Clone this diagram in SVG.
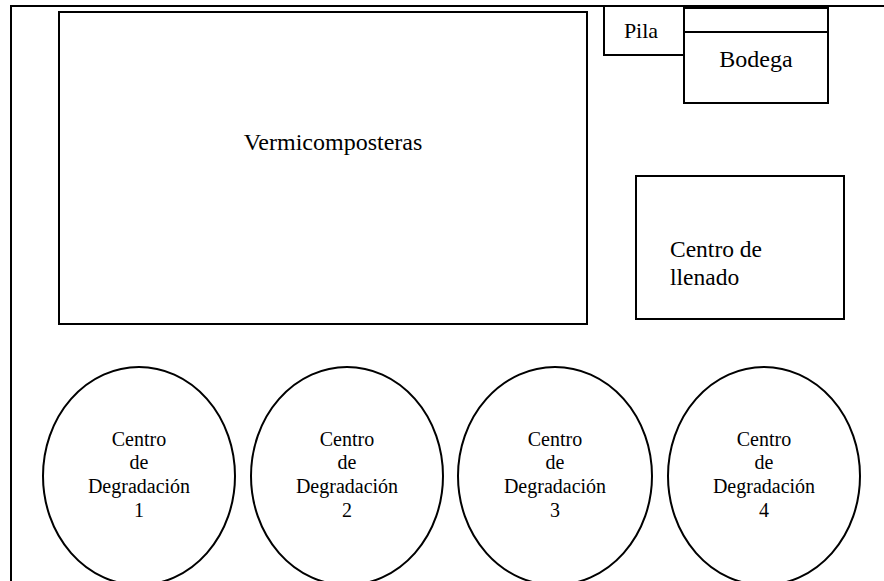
<svg xmlns="http://www.w3.org/2000/svg" width="884" height="581" viewBox="0 0 884 581">
<style>
.s{fill:none;stroke:#000;stroke-width:2}
text{font-family:'Liberation Serif','Times New Roman',serif;fill:#000}
.m{font-size:20px;text-anchor:middle}
</style>
<rect width="884" height="581" fill="#fff"/>
<g id="border"><path class="s" d="M11,581 V6 H884"/></g>
<g id="vermicomposteras"><rect class="s" x="59" y="12" width="528" height="312"/><text x="333" y="150" font-size="24" text-anchor="middle">Vermicomposteras</text></g>
<g id="pila"><path class="s" d="M604,7 V55 H684"/><text x="641" y="38" font-size="22" text-anchor="middle">Pila</text></g>
<g id="bodega"><rect class="s" x="684" y="8" width="144" height="95"/><line class="s" x1="684" y1="32" x2="828" y2="32"/><text x="756" y="67" font-size="24" text-anchor="middle">Bodega</text></g>
<g id="llenado"><rect class="s" x="636" y="176" width="208" height="143"/><text x="670" y="257" font-size="23.5">Centro de</text><text x="670" y="285" font-size="23.5">llenado</text></g>
<g id="cd1"><ellipse class="s" cx="139" cy="476" rx="96" ry="109"/><text class="m"><tspan x="139" y="446">Centro</tspan><tspan x="139" y="469">de</tspan><tspan x="139" y="493">Degradación</tspan><tspan x="139" y="517">1</tspan></text></g>
<g id="cd2"><ellipse class="s" cx="347" cy="476" rx="96" ry="109"/><text class="m"><tspan x="347" y="446">Centro</tspan><tspan x="347" y="469">de</tspan><tspan x="347" y="493">Degradación</tspan><tspan x="347" y="517">2</tspan></text></g>
<g id="cd3"><ellipse class="s" cx="555" cy="476" rx="97" ry="109"/><text class="m"><tspan x="555" y="446">Centro</tspan><tspan x="555" y="469">de</tspan><tspan x="555" y="493">Degradación</tspan><tspan x="555" y="517">3</tspan></text></g>
<g id="cd4"><ellipse class="s" cx="764" cy="476" rx="96" ry="109"/><text class="m"><tspan x="764" y="446">Centro</tspan><tspan x="764" y="469">de</tspan><tspan x="764" y="493">Degradación</tspan><tspan x="764" y="517">4</tspan></text></g>
<g id="connectors"></g>
</svg>
